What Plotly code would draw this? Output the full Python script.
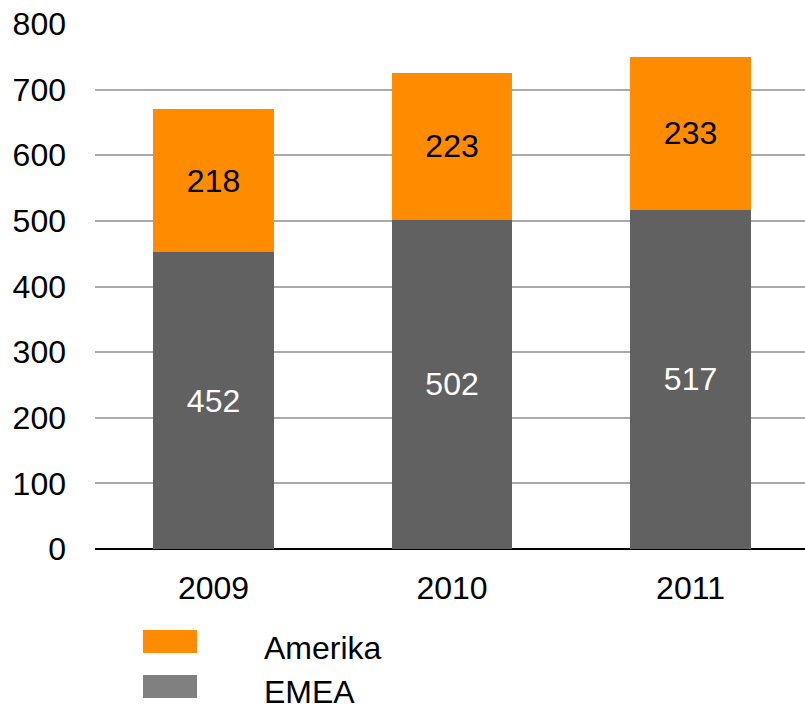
import plotly.graph_objects as go

years = ["2009", "2010", "2011"]
emea = [452, 502, 517]
amerika = [218, 223, 233]
y_ticks = [0, 100, 200, 300, 400, 500, 600, 700, 800]

FONT = "Liberation Sans, Arial, sans-serif"
FS = 32

fig = go.Figure()
fig.add_trace(go.Bar(
    x=years, y=emea, name="EMEA",
    marker=dict(color="#616161", line=dict(width=0)),
    text=[str(v) for v in emea], textposition="inside",
    insidetextanchor="middle",
    textfont=dict(color="white", size=FS, family=FONT),
    showlegend=False,
))
fig.add_trace(go.Bar(
    x=years, y=amerika, name="Amerika",
    marker=dict(color="#FF8C00", line=dict(width=0)),
    text=[str(v) for v in amerika], textposition="inside",
    insidetextanchor="middle",
    textfont=dict(color="black", size=FS, family=FONT),
    showlegend=False,
))

W, H = 805, 706
L, R, T, B = 95, 0, 24, 157
pw, ph = W - L - R, H - T - B

def px_x(x):
    return (x - L) / pw

def px_y(y):
    return (H - B - y) / ph

# (label, colour, swatch top, swatch bottom, text centre) in pixels
legend_items = [("Amerika", "#FF8C00", 630, 653, 648),
                ("EMEA", "#808080", 675, 698, 692)]
shapes = []
annotations = []
for label, color, y0, y1, yc in legend_items:
    shapes.append(dict(type="rect", xref="paper", yref="paper",
                       x0=px_x(143), x1=px_x(197), y0=px_y(y1), y1=px_y(y0),
                       fillcolor=color, line=dict(width=0)))
    annotations.append(dict(xref="paper", yref="paper", x=px_x(262),
                            y=px_y(yc), text=label, showarrow=False,
                            xanchor="left", yanchor="middle",
                            font=dict(size=FS, family=FONT, color="black")))

fig.update_layout(
    width=W, height=H,
    margin=dict(l=L, r=R, t=T, b=B, pad=0, autoexpand=False),
    barmode="stack", bargap=0.493,
    plot_bgcolor="white", paper_bgcolor="white",
    font=dict(family=FONT, size=FS, color="black"),
    uniformtext=dict(minsize=10, mode="show"),
    shapes=shapes, annotations=annotations,
    xaxis=dict(showgrid=False, showline=False, ticks="", automargin=False,
               range=[-0.497, 2.48],
               ticklabelstandoff=17, tickfont=dict(size=FS)),
    yaxis=dict(range=[0, 800], tickvals=y_ticks, showgrid=True, automargin=False,
               gridcolor="#AAAAAA", gridwidth=1.5,
               zeroline=True, zerolinecolor="black", zerolinewidth=1.5,
               showline=False, ticks="", ticklabelstandoff=28,
               tickfont=dict(size=FS)),
)

fig.write_html(
    "out.html",
    config={"displayModeBar": False},
    post_script="document.body.style.margin='0';document.body.style.overflow='hidden';",
)
